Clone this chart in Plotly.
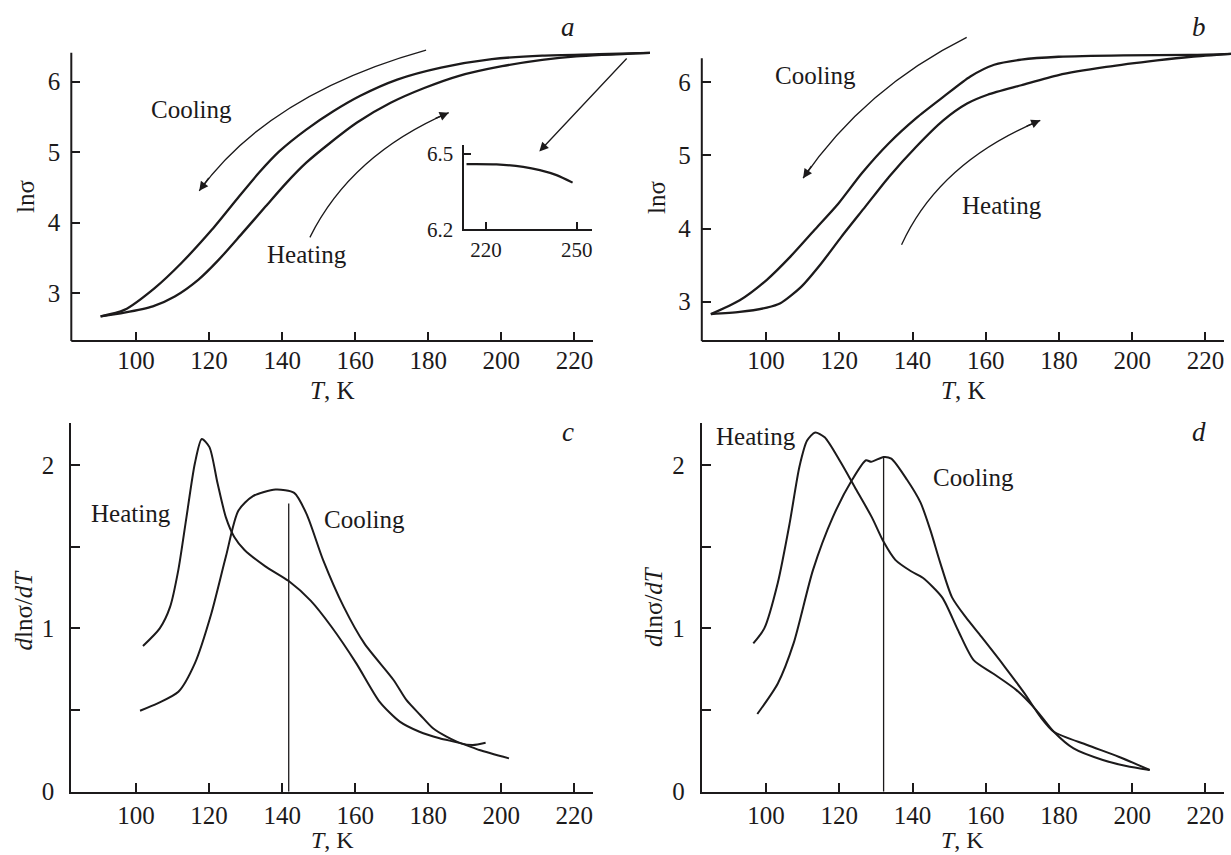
import plotly.graph_objects as go

W, H = 1231, 855
INK = '#1c1a1b'
FONT = 'Liberation Serif'
FS = 25

# ---------------- data ----------------
# panel a : ln(sigma) vs T
a_heat_T = [90.3, 96.8, 104.6, 110.6, 117.1, 122.6, 129.1, 135.5, 141.1, 146.6, 153.1, 160.5, 169.7, 178.9, 188.2, 200.2, 211.2, 220.5, 240.7]
a_heat_ln = [2.668, 2.72, 2.81, 2.95, 3.19, 3.47, 3.85, 4.23, 4.56, 4.85, 5.13, 5.42, 5.70, 5.91, 6.08, 6.22, 6.31, 6.36, 6.41]
a_cool_T = [90.3, 96.8, 105.1, 112.5, 120.8, 128.2, 133.7, 139.2, 146.6, 154.0, 161.4, 171.5, 183.5, 197.4, 211.2, 226.7, 240.7]
a_cool_ln = [2.668, 2.76, 3.07, 3.43, 3.90, 4.37, 4.71, 5.01, 5.32, 5.58, 5.80, 6.03, 6.20, 6.32, 6.37, 6.39, 6.41]
# inset of panel a
ins_T = [213.6, 223.5, 232.3, 237.8, 243.3, 248.6]
ins_ln = [6.460, 6.459, 6.449, 6.436, 6.416, 6.386]

# panel b
b_cool_T = [84.9, 92.8, 100.2, 106.7, 113.2, 119.7, 126.2, 133.6, 141.0, 148.4, 155.8, 162.3, 169.7, 179.9, 197.6, 216.1, 227.0]
b_cool_ln = [2.83, 3.02, 3.30, 3.62, 3.98, 4.34, 4.76, 5.17, 5.51, 5.80, 6.08, 6.24, 6.31, 6.35, 6.37, 6.375, 6.39]
b_heat_T = [84.9, 92.8, 100.2, 103.9, 109.5, 115.0, 120.6, 127.1, 133.6, 141.0, 148.4, 154.9, 160.5, 169.7, 179.9, 192.9, 206.8, 216.1, 227.0]
b_heat_ln = [2.83, 2.86, 2.92, 2.98, 3.20, 3.52, 3.89, 4.30, 4.71, 5.12, 5.48, 5.71, 5.83, 5.96, 6.10, 6.21, 6.30, 6.35, 6.39]

# panel c : d ln(sigma)/dT
c_heat_T = [101.9, 106.5, 109.3, 111.6, 113.8, 116.1, 118.0, 120.1, 122.3, 124.6, 126.9, 129.7, 135.4, 141.8, 147.8, 153.5, 160.3, 166.7, 172.2, 177.6, 183.1, 189.0, 194.0, 202.1]
c_heat_v = [0.892, 1.00, 1.13, 1.36, 1.68, 2.01, 2.16, 2.11, 1.89, 1.68, 1.56, 1.48, 1.38, 1.29, 1.17, 1.01, 0.786, 0.55, 0.429, 0.367, 0.327, 0.296, 0.255, 0.204]
c_cool_T = [101.1, 105.9, 111.6, 116.1, 120.6, 124.6, 128.0, 132.0, 138.2, 143.3, 146.7, 151.2, 156.9, 162.5, 170.5, 174.0, 177.8, 181.3, 185.0, 189.0, 192.2, 195.7]
c_cool_v = [0.496, 0.541, 0.612, 0.786, 1.09, 1.44, 1.72, 1.81, 1.85, 1.83, 1.70, 1.42, 1.13, 0.908, 0.684, 0.562, 0.47, 0.388, 0.337, 0.296, 0.286, 0.30]
c_mark_T = 141.8
c_mark_v = 1.765

# panel d
d_heat_T = [96.5, 99.5, 103.2, 106.4, 109.1, 111.2, 113.4, 116.0, 120.3, 124.6, 128.9, 132.1, 135.3, 139.6, 142.8, 148.1, 152.4, 156.7, 162.0, 168.4, 173.8, 178.6, 184.0, 192.0, 198.4, 204.8]
d_heat_v = [0.908, 1.00, 1.28, 1.64, 1.99, 2.15, 2.20, 2.17, 2.02, 1.85, 1.68, 1.53, 1.42, 1.35, 1.31, 1.19, 0.99, 0.806, 0.724, 0.622, 0.50, 0.367, 0.265, 0.194, 0.157, 0.133]
d_cool_T = [97.6, 103.2, 107.5, 112.8, 118.2, 123.5, 127.3, 128.7, 132.1, 134.2, 138.5, 142.2, 144.9, 147.6, 150.8, 154.5, 158.8, 165.2, 170.6, 174.9, 178.6, 187.7, 196.3, 204.8]
d_cool_v = [0.476, 0.663, 0.908, 1.357, 1.68, 1.91, 2.03, 2.02, 2.05, 2.04, 1.91, 1.77, 1.60, 1.40, 1.19, 1.07, 0.949, 0.765, 0.602, 0.459, 0.367, 0.286, 0.214, 0.133]
d_mark_T = 132.1
d_mark_v = 2.05

T_ticks = [100, 120, 140, 160, 180, 200, 220]
ln_ticks = [3, 4, 5, 6]
dv_ticks = [0, 0.5, 1, 1.5, 2]
dv_text = ['0', '', '1', '', '2']
ins_xticks = [220, 250]
ins_yticks = [6.2, 6.5]

# ---------------- geometry (target pixel positions on the 1231x855 page) ----------------
def px(x):
    return x / W

def py(y):
    return 1 - y / H

fig = go.Figure()

def curve(x, y, ax, width=2.3, shape='spline'):
    fig.add_trace(go.Scatter(x=x, y=y, xaxis=ax[0], yaxis=ax[1], mode='lines',
                             line=dict(color=INK, width=width, shape=shape, smoothing=0.7),
                             showlegend=False, hoverinfo='skip'))

curve(a_heat_T, a_heat_ln, ('x', 'y'))
curve(a_cool_T, a_cool_ln, ('x', 'y'))
curve(ins_T, ins_ln, ('x5', 'y5'), width=2.2)
curve(b_cool_T, b_cool_ln, ('x2', 'y2'))
curve(b_heat_T, b_heat_ln, ('x2', 'y2'))
curve(c_heat_T, c_heat_v, ('x3', 'y3'), width=2.0)
curve(c_cool_T, c_cool_v, ('x3', 'y3'), width=2.0)
curve(d_heat_T, d_heat_v, ('x4', 'y4'), width=2.0)
curve(d_cool_T, d_cool_v, ('x4', 'y4'), width=2.0)
curve([c_mark_T, c_mark_T], [0, c_mark_v], ('x3', 'y3'), width=1.3, shape='linear')
curve([d_mark_T, d_mark_T], [0, d_mark_v], ('x4', 'y4'), width=1.3, shape='linear')


def axis(domain, rng, tickvals, ticktext=None, showline=False, anchor=None, size=FS, ticklen=9, standoff=None):
    d = dict(domain=domain, range=rng, tickmode='array', tickvals=tickvals,
             ticks='inside', ticklen=ticklen, tickwidth=1.6, tickcolor=INK,
             tickfont=dict(family=FONT, size=size, color=INK),
             showgrid=False, zeroline=False, showline=showline, linewidth=2,
             linecolor=INK, mirror=False, anchor=anchor, fixedrange=True,
             automargin=False)
    if ticktext is not None:
        d['ticktext'] = ticktext
    if standoff is not None:
        d['ticklabelstandoff'] = standoff
    return d

a_x = (82.28, 240.7); a_y = (2.318, 6.5)
b_x = (82.43, 227.0); b_y = (2.463, 6.65)
cd_y = (0, 2.256)

layout = dict(
    width=W, height=H, margin=dict(l=0, r=0, t=0, b=0, pad=0, autoexpand=False),
    paper_bgcolor='white', plot_bgcolor='rgba(0,0,0,0)',
    xaxis=axis([px(71.3), px(650)], list(a_x), T_ticks, anchor='y', standoff=2),
    yaxis=axis([py(341), py(46.5)], list(a_y), ln_ticks, anchor='x', standoff=10),
    xaxis2=axis([px(701.8), px(1231)], list(b_x), T_ticks, anchor='y2', standoff=2),
    yaxis2=axis([py(341), py(34.8)], list(b_y), ln_ticks, anchor='x2', standoff=10),
    xaxis3=axis([px(71.3), px(593)], [82.28, 225.1], T_ticks, showline=True, anchor='y3', standoff=0),
    yaxis3=axis([py(791.7), py(423.3)], list(cd_y), dv_ticks, dv_text, showline=True, anchor='x3', standoff=10),
    xaxis4=axis([px(701.8), px(1224)], [82.43, 225.1], T_ticks, showline=True, anchor='y4', standoff=0),
    yaxis4=axis([py(791.7), py(423.3)], list(cd_y), dv_ticks, dv_text, showline=True, anchor='x4', standoff=10),
    xaxis5=axis([px(463.5), px(592)], [212.6, 255], ins_xticks, showline=True, anchor='y5', size=21, ticklen=7),
    yaxis5=axis([py(229.3), py(145)], [6.2, 6.536], ins_yticks, showline=True, anchor='x5', size=21, ticklen=7, standoff=4),
)
fig.update_layout(**layout)

# axis lines for panels a and b (shorter than the plotting area)
for (x0, x1, yb, yt) in [(71.3, 593, 341, 52.7), (701.8, 1224, 341, 58.3)]:
    fig.add_shape(type='line', xref='paper', yref='paper', x0=px(x0), x1=px(x1), y0=py(yb), y1=py(yb),
                  line=dict(color=INK, width=2))
    fig.add_shape(type='line', xref='paper', yref='paper', x0=px(x0), x1=px(x0), y0=py(yb), y1=py(yt),
                  line=dict(color=INK, width=2))

# curved arrows (quadratic paths in data coordinates) + arrowheads
def curved_arrow(xr, yr, p0, c, p2, head):
    fig.add_shape(type='path', xref=xr, yref=yr,
                  path=f'M {p0[0]},{p0[1]} Q {c[0]},{c[1]} {p2[0]},{p2[1]}',
                  line=dict(color=INK, width=1.3))
    fig.add_annotation(x=p2[0], y=p2[1], xref=xr, yref=yr, ax=head[0], ay=head[1],
                       showarrow=True, arrowhead=2, arrowsize=1.4, arrowwidth=1.3,
                       arrowcolor=INK, text='')

curved_arrow('x', 'y', (179.4, 6.45), (136.6, 5.83), (117.3, 4.45), (10.6, -14.6))
curved_arrow('x', 'y', (147.6, 3.79), (158.8, 4.96), (185.6, 5.56), (-14.7, 6.3))
curved_arrow('x2', 'y2', (154.8, 6.615), (127.0, 5.92), (110.1, 4.69), (9.3, -13.5))
curved_arrow('x2', 'y2', (137.0, 3.78), (147.3, 4.91), (174.9, 5.48), (-15.1, 6.3))
# straight arrow pointing to the inset
fig.add_annotation(x=210.4, y=5.01, xref='x', yref='y', ax=234.7, ay=6.35, axref='x', ayref='y',
                   showarrow=True, arrowhead=2, arrowsize=1.4, arrowwidth=1.3, arrowcolor=INK, text='')

def label(text, x, y, xref, yref, size=FS, angle=0, yanchor='middle'):
    fig.add_annotation(x=x, y=y, xref=xref, yref=yref, text=text, showarrow=False,
                       textangle=angle, font=dict(family=FONT, size=size, color=INK),
                       xanchor='center', yanchor=yanchor)

label('Cooling', 115.2, 5.60, 'x', 'y')
label('Heating', 146.8, 3.54, 'x', 'y')
label('Cooling', 113.6, 6.09, 'x2', 'y2')
label('Heating', 164.4, 4.32, 'x2', 'y2')
label('Heating', 98.5, 1.705, 'x3', 'y3')
label('Cooling', 162.5, 1.668, 'x3', 'y3')
label('Heating', 97.3, 2.174, 'x4', 'y4')
label('Cooling', 156.7, 1.925, 'x4', 'y4')

# panel letters
for t, x, y in [('a', 568, 27), ('b', 1199, 27), ('c', 568, 432), ('d', 1199, 432)]:
    label(f'<i>{t}</i>', px(x), py(y), 'paper', 'paper', size=27)

# axis titles
for x, y in [(332, 391), (963, 391)]:
    label('<i>T</i>, K', px(x), py(y), 'paper', 'paper')
for x in [332, 963]:
    label('<i>T</i>, K', px(x), py(854.5), 'paper', 'paper', size=24, yanchor='bottom')
for x, y in [(26, 197), (656, 198)]:
    label('lnσ', px(x), py(y), 'paper', 'paper', angle=-90)
for x, y in [(22.5, 610), (653, 607)]:
    label('<i>d</i>lnσ/<i>dT</i>', px(x), py(y), 'paper', 'paper', angle=-90)

fig.write_html('out.html', config={'displayModeBar': False},
               post_script="document.body.style.margin='0';document.body.style.overflow='hidden';")
